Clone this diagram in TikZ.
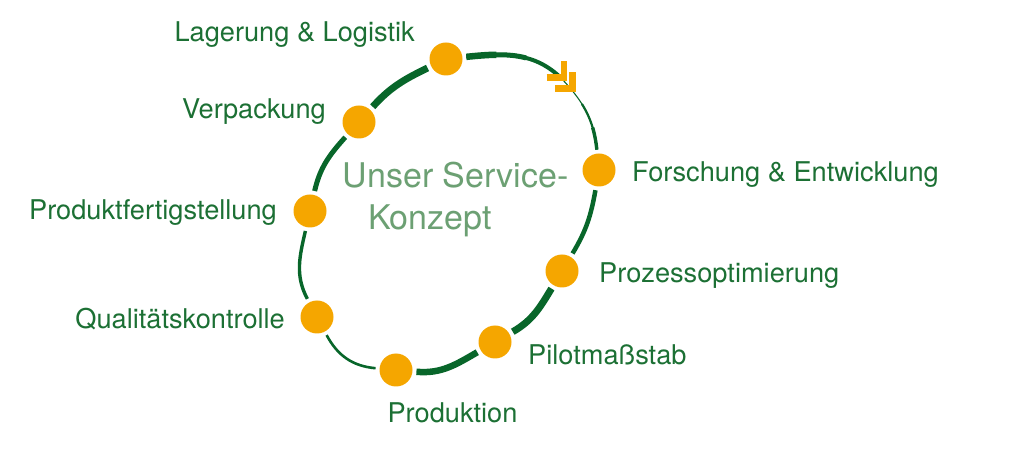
\documentclass[tikz,border=0pt]{standalone}
\usepackage{fontspec}
\setmainfont{TeX Gyre Heros}
\usetikzlibrary{calc}
\definecolor{dotorange}{RGB}{245,166,0}
\definecolor{ringgreen}{RGB}{8,102,42}
\definecolor{lblgreen}{RGB}{28,112,52}
\definecolor{midgreen}{RGB}{108,160,115}
\begin{document}
\begin{tikzpicture}[x=1pt,y=1pt,
  dot/.style={circle, fill=dotorange, minimum size=33pt, inner sep=0pt, outer sep=4pt},
  lbl/.style={text=lblgreen, font=\fontsize{27.2}{32}\selectfont, inner sep=0pt},
  ctr/.style={text=midgreen, font=\fontsize{34}{40}\selectfont, inner sep=0pt, anchor=base west},
  ring/.style={draw=ringgreen, line cap=butt},
  chev/.style={draw=dotorange, line width=6.3pt, line join=miter, line cap=butt}]
\useasboundingbox (0,0) rectangle (1024,452);
% circles
\node[dot] (lag) at (446,393) {};
\node[dot] (ver) at (359,330) {};
\node[dot] (pfs) at (310,241) {};
\node[dot] (qua) at (317,135) {};
\node[dot] (prd) at (396,82) {};
\node[dot] (pil) at (495,110) {};
\node[dot] (pzo) at (562,181) {};
\node[dot] (for) at (599,282) {};
\coordinate (arr) at (562,373);
% ring segments
\draw[ring, line width=4pt] (lag) to[out=6,in=135] (arr);
\draw[ring, line width=5pt, dash pattern=on 60pt off 400pt] (lag) to[out=6,in=135] (arr);
\draw[ring, line width=6.5pt, dash pattern=on 30pt off 400pt] (lag) to[out=6,in=135] (arr);
\draw[ring, line width=1.1pt] (arr) to[out=-47,in=96] (for);
\draw[ring, line width=2.2pt, dash pattern=on 0pt off 32pt on 400pt] (arr) to[out=-47,in=96] (for);
\draw[ring, line width=3.4pt, dash pattern=on 0pt off 58pt on 400pt] (arr) to[out=-47,in=96] (for);
\draw[ring, line width=4.5pt] (for) to[out=-100,in=59] (pzo);
\draw[ring, line width=7pt] (pzo) to[out=-121,in=30] (pil);
\draw[ring, line width=6.5pt] (pil) to[out=-150,in=-5] (prd);
\draw[ring, line width=2.6pt] (prd) to[out=175,in=-62] (qua);
\draw[ring, line width=3.4pt] (qua) to[out=118,in=-103] (pfs);
\draw[ring, line width=5pt] (pfs) to[out=77,in=-132] (ver);
\draw[ring, line width=7pt] (ver) to[out=48,in=-154] (lag);
% chevrons
\coordinate (c1) at (564.2,374.5);
\coordinate (c2) at (572.5,363.5);
\draw[chev] ($(c1)+(-17.5,0)$) -- (c1) -- ($(c1)+(0,16.5)$);
\draw[chev] ($(c2)+(-17.5,0)$) -- (c2) -- ($(c2)+(0,16.8)$);
% labels
\node[lbl, anchor=base east] (tlag) at (415,410) {Lagerung \& Logistik};
\node[lbl, anchor=base east] (tver) at (326,333) {Verpackung};
\node[lbl, anchor=base east] (tpfs) at (277,232) {Produktfertigstellung};
\node[lbl, anchor=base east] (tqua) at (285,123) {Qualitätskontrolle};
\node[lbl, anchor=base] (tprd) at (452.5,30) {Produktion};
\node[lbl, anchor=base west] (tpil) at (528,87) {Pilotmaßstab};
\node[lbl, anchor=base west] (tpzo) at (599,169) {Prozessoptimierung};
\node[lbl, anchor=base west] (tfor) at (632,270) {Forschung \& Entwicklung};
% centre text
\node[ctr] (t1) at (342.7,264) {Unser Service-};
\node[ctr] (t2) at (368,222) {Konzept};
\end{tikzpicture}
\end{document}
